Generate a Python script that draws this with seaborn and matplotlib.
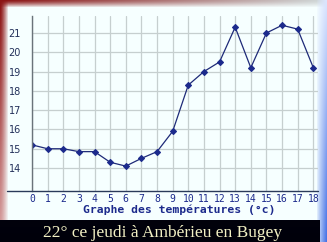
import numpy as np
import pandas as pd
import matplotlib
matplotlib.use("Agg")
import matplotlib.pyplot as plt
import seaborn as sns
from matplotlib.lines import Line2D

# ---- data ----
hours = list(range(19))
temps = [15.2, 15.0, 15.0, 14.85, 14.85, 14.3, 14.1, 14.5, 14.85, 15.9,
         18.3, 19.0, 19.5, 21.3, 19.2, 21.0, 21.4, 21.2, 19.2]
y_ticks = [14, 15, 16, 17, 18, 19, 20, 21]
x_ticks = list(range(19))
axis_title = "Graphe des températures (°c)"
banner_text = "22° ce jeudi à Ambérieu en Bugey"

sns.set_theme(style="white")
W, H = 327, 242
fig = plt.figure(figsize=(W / 100, H / 100), dpi=100)

# ---- decorative frame ----
bg = fig.add_axes([0, 0, 1, 1])
bg.axis("off")
yy, xx = np.mgrid[0:H, 0:W].astype(float)
base = np.array([0.965, 1.0, 1.0])
img = np.ones((H, W, 3)) * base


def blend(img, color, alpha):
    a = np.clip(alpha, 0, 1)[..., None]
    return img * (1 - a) + color * a


# top band
tx = (xx / W)[..., None]
ctop = np.array([0.55, 0.08, 0.08]) * (1 - tx) + np.array([0.82, 0.86, 0.86]) * tx
img = blend(img, ctop, np.where(yy < 7, 1 - (yy / 7) ** 1.3, 0))
# left band
ty = (yy / H)[..., None]
cleft = np.array([0.55, 0.08, 0.08]) * (1 - ty) + np.array([0.86, 0.66, 0.66]) * ty
img = blend(img, cleft, np.where(xx < 8, 1 - (xx / 8) ** 1.3, 0))
# right band
cright = np.array([0.86, 0.9, 1.0]) * (1 - ty) + np.array([0.28, 0.45, 0.9]) * ty
img = blend(img, cright, np.where(xx >= 316, ((xx - 316) / 10) ** 0.8, 0))
# banner
ban = (yy >= 220) & (xx < 320)
cban = np.array([0.06, 0.06, 0.12]) * (1 - ty) + np.array([0.0, 0.0, 0.04]) * ty
img = blend(img, cban, ban.astype(float))

bg.imshow(img, aspect="auto", interpolation="nearest", extent=[0, W, H, 0])
bg.set_xlim(0, W)
bg.set_ylim(H, 0)

# ---- plot ----
navy = "#1c2a8c"
ax = fig.add_axes([32 / W, (H - 191) / H, (318 - 32) / W, (191 - 16) / H])
ax.set_facecolor("none")
df = pd.DataFrame({"heure": hours, "temp": temps})
sns.lineplot(data=df, x="heure", y="temp", ax=ax, color="#1e2a78", linewidth=0.9,
             marker="D", markersize=3.1, markeredgecolor=navy, markerfacecolor=navy)
ax.set_xlim(0, 18.3)
ax.set_ylim(12.81, 21.88)
ax.set_xticks(x_ticks)
ax.set_yticks(y_ticks)
ax.set_xticklabels([str(v) for v in x_ticks], fontfamily="DejaVu Sans Mono",
                   fontsize=7, color=navy)
ax.set_yticklabels([str(v) for v in y_ticks], fontfamily="DejaVu Sans",
                   fontsize=7, color="#22305a")
ax.tick_params(axis="x", length=0, pad=2)
ax.tick_params(axis="y", length=0, pad=8)
ax.grid(True, color="#c6cfcf", linewidth=0.9)
ax.set_axisbelow(True)
ax.set_xlabel("")
ax.set_ylabel("")
for s in ["top", "right", "bottom"]:
    ax.spines[s].set_visible(False)
ax.spines["left"].set_color("#6a737a")
ax.spines["left"].set_linewidth(1.0)

# bottom axis line extending to the left border
fig.add_artist(Line2D([7 / W, 318 / W], [(H - 191) / H] * 2, color="#2a3a5a",
                      linewidth=1.0, transform=fig.transFigure))

fig.text(179 / W, (H - 210) / H, axis_title, ha="center", va="center",
         fontfamily="DejaVu Sans Mono", fontweight="bold", fontsize=8.2, color=navy)
fig.text(163 / W, (H - 237) / H, banner_text, ha="center", va="baseline",
         fontfamily="Liberation Serif", fontsize=12.5, color="#f2f0c4")

fig.savefig("out.png", dpi=100)
